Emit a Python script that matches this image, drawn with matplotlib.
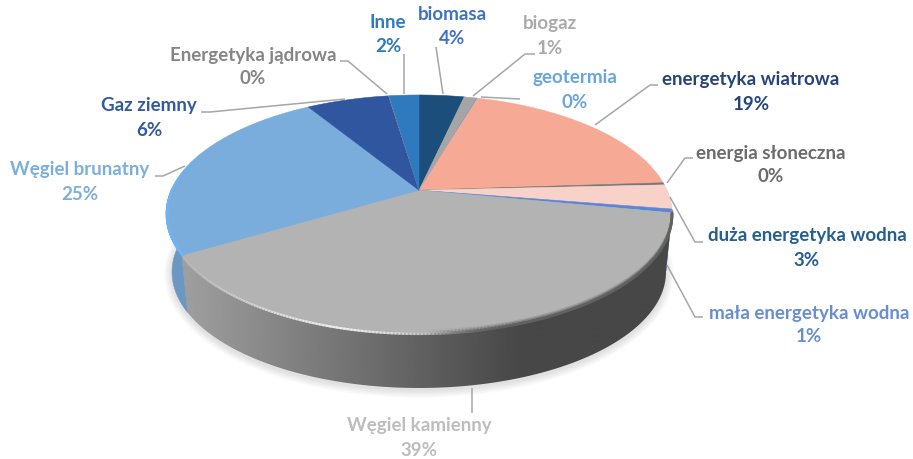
import numpy as np
import matplotlib
matplotlib.use("Agg")
import matplotlib.pyplot as plt
from matplotlib.collections import LineCollection
from matplotlib.patches import Polygon, Ellipse

plt.rcParams['font.family'] = ['Lato', 'DejaVu Sans']

# shares, clockwise from 12 o'clock
sources = ["biomasa", "biogaz", "geotermia", "energetyka wiatrowa", "energia słoneczna",
           "duża energetyka wodna", "mała energetyka wodna", "Węgiel kamienny",
           "Węgiel brunatny", "Gaz ziemny", "Energetyka jądrowa", "Inne"]
shares = [3.5, 1.0, 0.05, 19.4, 0.3, 3.3, 0.5, 38.4, 24.8, 6.4, 0.05, 2.3]
percent_labels = ["4%", "1%", "0%", "19%", "0%", "3%", "1%", "39%", "25%", "6%", "0%", "2%"]
slice_colors = ["#1C4E7C", "#A5A5A5", "#5B9BD5", "#F6A995", "#767676", "#F8D2C9",
                "#5B86D6", "#B3B3B3", "#7AACDC", "#2F569F", "#8A8A8A", "#2F7ABF"]
text_colors = ["#3F72C4", "#ABABAB", "#6AA5DC", "#264478", "#6B6B6B", "#255E91",
               "#698ED0", "#BDBDBD", "#7CAFDD", "#335AA1", "#858585", "#2E7BC0"]

# label centre x, y of first line, y of second line
label_pos = [(452, 15, 39), (550, 23, 48), (575, 78, 102), (751, 80, 104), (771, 153, 177),
             (807, 236, 260), (809, 313, 337), (419, 425, 450), (80, 170, 194),
             (149, 106, 130), (253, 55, 79), (388, 22, 46)]
leaders = [
    [(436, 47), (443, 94)],
    [(473, 96), (525, 54), (535, 54)],
    [(481, 97), (520, 99)],
    [(595, 125), (650, 85), (658, 85)],
    [(667, 183), (685, 158), (693, 158)],
    [(670, 197), (695, 242), (703, 242)],
    [(667, 265), (695, 317), (703, 317)],
    [(472, 388), (472, 413)],
    [(185, 166), (163, 176), (155, 176)],
    [(345, 99), (210, 112), (201, 112)],
    [(387, 94), (348, 61), (340, 61)],
    [(404, 54), (404, 94)],
]

# pie is seen in perspective, so the centre sits above the middle of the ellipse
K = 0.2


def on_disc(theta, r=1.0, cx=419, cy=214, rx=253, ry=119):
    u = r * np.sin(theta)
    v = r * np.cos(theta)
    d = 1 + K * v
    return np.column_stack([cx + rx * u * np.sqrt(1 - K ** 2) / d, cy - ry * (v + K) / d])


def on_bottom(theta):
    return on_disc(theta, cx=419, cy=272, rx=247, ry=116)


def fading_line(ax, pts, colors, lw, zorder=6):
    segs = np.stack([pts[:-1], pts[1:]], axis=1)
    ax.add_collection(LineCollection(segs, colors=colors, linewidths=lw, zorder=zorder, capstyle='round'))


fig = plt.figure(figsize=(9.13, 4.59), dpi=100)
ax = fig.add_axes([0, 0, 1, 1])

edges = np.concatenate([[0], np.cumsum(shares)]) / np.sum(shares) * 2 * np.pi
centre = on_disc(np.array([0.0]), r=0.0)

# soft shadow under the pie
for grow in range(10, 0, -1):
    ax.add_patch(Ellipse((419, 274), 2 * 247 + grow * 1.6, 2 * 116 + grow * 1.6,
                         color="black", alpha=0.012, lw=0, zorder=1))

# side wall, only the front half shows
for i in range(len(shares)):
    a0, a1 = max(edges[i], np.pi / 2), min(edges[i + 1], 1.5 * np.pi)
    if a1 <= a0:
        continue
    t = np.linspace(a0, a1, 120)
    wall = np.vstack([on_disc(t), on_bottom(t)[::-1]])
    if sources[i] == "Węgiel kamienny":
        xs = np.linspace(170, 675, 300)
        grey = np.interp(xs, [187, 300, 450, 520, 675], [0.62, 0.50, 0.35, 0.28, 0.28])
        im = ax.imshow(np.tile(grey, (2, 1)), extent=(170, 675, 400, 180), cmap="gray",
                       vmin=0, vmax=1, aspect="auto", zorder=2, interpolation="bilinear")
        im.set_clip_path(Polygon(wall, transform=ax.transData))
    else:
        col = np.array(matplotlib.colors.to_rgb(slice_colors[i])) * 0.88
        ax.add_patch(Polygon(wall, fc=col, ec=col, lw=0.3, zorder=2))

# top face
for i in range(len(shares)):
    t = np.linspace(edges[i], edges[i + 1], max(int(shares[i] * 6), 3))
    ax.add_patch(Polygon(np.vstack([centre, on_disc(t)]), fc=slice_colors[i], ec=slice_colors[i],
                         lw=0.4, zorder=3, joinstyle='round'))

# bevel along the front edge of the big grey slice
coal = sources.index("Węgiel kamienny")
t = np.linspace(edges[coal], edges[coal + 1], 200)
arc = on_disc(t)
left_to_right = np.clip((arc[:, 0] - 430) / 90, 0, 1)[:-1]
white = np.clip(1 - np.abs(arc[:, 0] - 340) / 170, 0, 1)[:-1]
fading_line(ax, arc + [0, 1.0], [(0.95, 0.95, 0.95, 0.9 * w) for w in white], 1.6)
for off, g, w in [(-2.5, 0.62, 1.6), (-1, 0.5, 1.8), (0.5, 0.38, 2.0)]:
    fading_line(ax, arc + [0, off], [(g, g, g, a) for a in left_to_right], w)

# lighter rim on the left of the brown coal slice
brown = sources.index("Węgiel brunatny")
t = np.linspace(edges[brown], 1.62 * np.pi, 80)
fading_line(ax, on_disc(t) + [1.2, 0], [(0.43, 0.71, 0.96, a) for a in np.linspace(1, 0, 79)], 2.2)

for pts in leaders:
    p = np.array(pts)
    ax.plot(p[:, 0], p[:, 1], color="#A6A6A6", lw=1.1, zorder=5, solid_capstyle='butt')

for name, pct, col, (x, y1, y2) in zip(sources, percent_labels, text_colors, label_pos):
    ax.text(x, y1, name, color=col, fontsize=13.5, fontweight="bold", ha="center", va="center", zorder=7)
    ax.text(x, y2, pct, color=col, fontsize=13.5, fontweight="bold", ha="center", va="center", zorder=7)

ax.set_xlim(0, 913)
ax.set_ylim(459, 0)
ax.axis("off")

fig.savefig("out.png", dpi=100)
